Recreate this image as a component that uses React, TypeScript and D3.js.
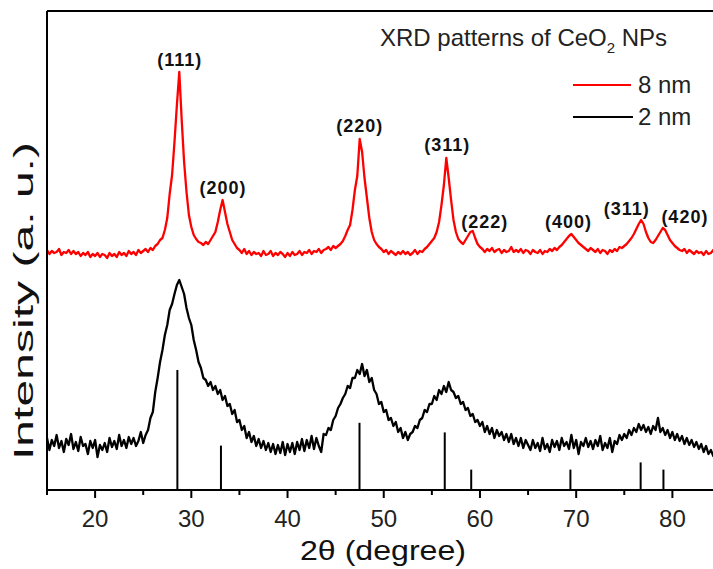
import React, { useEffect } from 'react';
import * as d3 from 'd3';

// 2θ grid of the scans (degree), 0.25° step from 15 to 85
const twoTheta = d3.range(0, 281).map((i) => 15 + i * 0.25);

// 8 nm sample, intensity (a.u.)
const red8nm = [
  240, 236, 239, 237, 238, 241, 235, 238, 237, 240, 236, 239, 236, 238, 234, 237,
  235, 238, 233, 236, 234, 237, 233, 236, 235, 232, 237, 234, 236, 233, 238, 235,
  237, 234, 239, 236, 238, 235, 240, 237, 239, 241, 238, 242, 240, 244, 246, 250,
  252, 260, 272, 296, 315, 348, 385, 418, 370, 328, 298, 275, 263, 255, 251, 248,
  247, 245, 248, 246, 250, 254, 258, 268, 280, 290, 278, 266, 258, 250, 246, 242,
  240, 237, 241, 236, 239, 235, 238, 236, 237, 234, 239, 235, 236, 239, 234, 237,
  235, 238, 236, 233, 237, 234, 238, 235, 236, 239, 235, 238, 237, 240, 236, 239,
  238, 241, 237, 240, 241, 243, 240, 244, 242, 244, 246, 249, 254, 260, 265, 280,
  300, 314, 351, 338, 312, 292, 272, 258, 250, 246, 243, 241, 238, 240, 236, 239,
  237, 235, 238, 236, 239, 236, 238, 235, 237, 240, 236, 239, 238, 241, 243, 246,
  249, 252, 258, 268, 285, 305, 332, 312, 290, 270, 258, 251, 248, 246, 250, 254,
  258, 259, 252, 246, 243, 241, 238, 241, 239, 242, 238, 240, 241, 237, 240, 238,
  239, 243, 238, 240, 238, 241, 237, 240, 239, 236, 240, 238, 237, 240, 236, 239,
  238, 241, 239, 242, 240, 243, 245, 248, 251, 254, 256, 253, 250, 247, 245, 243,
  241, 239, 242, 240, 238, 241, 237, 240, 239, 236, 240, 238, 241, 239, 243, 242,
  244, 246, 249, 252, 256, 261, 266, 270, 266, 258, 252, 248, 247, 250, 254, 258,
  262, 260, 255, 250, 247, 244, 242, 240, 239, 241, 237, 240, 238, 236, 239, 237,
  238, 235, 239, 236, 237, 240, 236, 238, 237,
];

// 2 nm sample, intensity (a.u.)
const black2nm = [
  52, 40, 50, 44, 55, 42, 49, 38, 51, 45, 56, 41, 48, 39, 53, 44,
  46, 36, 49, 42, 50, 33, 45, 40, 47, 38, 52, 43, 49, 41, 55, 44,
  50, 42, 53, 46, 52, 44, 49, 58, 47, 55, 60, 72, 78, 98, 112, 128,
  140, 155, 165, 180, 186, 196, 205, 210, 203, 196, 182, 172, 165, 150, 140, 128,
  122, 112, 110, 104, 108, 100, 104, 96, 100, 90, 94, 84, 86, 76, 80, 68,
  70, 60, 64, 52, 58, 48, 54, 44, 51, 42, 49, 40, 47, 38, 46, 36,
  45, 37, 48, 35, 46, 38, 47, 36, 48, 40, 51, 39, 50, 42, 54, 41,
  52, 44, 38, 56, 55, 62, 60, 70, 74, 82, 86, 92, 96, 104, 102, 112,
  112, 120, 116, 126, 114, 120, 108, 112, 100, 96, 86, 88, 78, 80, 70, 72,
  64, 68, 58, 62, 52, 58, 50, 56, 58, 64, 62, 70, 72, 80, 78, 86,
  86, 94, 90, 100, 96, 104, 98, 108, 100, 98, 92, 94, 86, 88, 80, 82,
  74, 76, 68, 70, 64, 68, 58, 64, 56, 62, 52, 60, 54, 58, 50, 56,
  48, 56, 46, 52, 44, 52, 42, 50, 45, 40, 50, 42, 47, 39, 52, 41,
  46, 38, 50, 43, 49, 40, 52, 44, 48, 41, 55, 42, 50, 36, 48, 44,
  52, 43, 49, 41, 50, 44, 54, 40, 47, 42, 52, 38, 49, 46, 55, 50,
  56, 52, 60, 55, 62, 58, 66, 60, 65, 58, 63, 56, 64, 60, 72, 58,
  62, 55, 60, 52, 58, 50, 56, 49, 54, 46, 52, 45, 50, 43, 48, 41,
  46, 38, 44, 36, 40, 34, 38, 32, 36,
];

// reference (standard) lines for CeO2
const stickPos = [28.55, 33.08, 47.48, 56.34, 59.09, 69.4, 76.7, 79.07];
const stickInt = [100, 37, 56, 48, 17, 17, 23, 17];

// peak labels
const peakLabels = ['(111)', '(200)', '(220)', '(311)', '(222)', '(400)', '(311)', '(420)'];
const peakLabelPos = [28.8, 33.3, 47.5, 56.6, 60.5, 69.2, 75.25, 81.3];
const peakLabelInt = [424, 296, 358, 339, 262, 262, 275, 267];

const majorTicks = [20, 30, 40, 50, 60, 70, 80];
const minorTicks = [15, 25, 35, 45, 55, 65, 75, 85];

const W = 713;
const H = 569;
const font = '"Liberation Sans", Arial, sans-serif';

export default function App() {
  useEffect(() => {
    document.body.style.margin = '0';
  }, []);

  const x = d3.scaleLinear().domain([15, 85]).range([47, 720.5]);
  const y = d3.scaleLinear().domain([0, 479]).range([490, 11]);
  const stickH = d3.scaleLinear().domain([0, 100]).range([0, 120]);

  const line = d3
    .line<number>()
    .x((_, i) => x(twoTheta[i]))
    .y((d) => y(d));

  const y0 = y(0);

  return (
    <svg width={W} height={H} style={{ display: 'block' }} fontFamily={font}>
      <rect width={W} height={H} fill="#fff" />

      {/* curves */}
      <path d={line(black2nm) || ''} fill="none" stroke="#000" strokeWidth={2.3} strokeLinejoin="round" />
      <path d={line(red8nm) || ''} fill="none" stroke="#f00" strokeWidth={2.3} strokeLinejoin="round" />

      {/* standard lines */}
      {stickPos.map((p, i) => (
        <line key={i} x1={x(p)} x2={x(p)} y1={y0} y2={y0 - stickH(stickInt[i])} stroke="#000" strokeWidth={2} />
      ))}

      {/* frame */}
      <line x1={47} x2={W} y1={y(479)} y2={y(479)} stroke="#000" strokeWidth={2} />
      <line x1={47} x2={47} y1={y(479)} y2={y0} stroke="#000" strokeWidth={2} />
      <line x1={46} x2={W} y1={y0} y2={y0} stroke="#000" strokeWidth={2} />

      {/* ticks */}
      {majorTicks.map((t) => (
        <g key={t}>
          <line x1={x(t)} x2={x(t)} y1={y0} y2={y0 + 8} stroke="#000" strokeWidth={2} />
          <text x={x(t)} y={527} textAnchor="middle" fontSize={24} fill="#222">
            {t}
          </text>
        </g>
      ))}
      {minorTicks.map((t) => (
        <line key={t} x1={x(t)} x2={x(t)} y1={y0} y2={y0 + 5} stroke="#000" strokeWidth={2} />
      ))}

      {/* axis titles */}
      <text x={383} y={560} textAnchor="middle" fontSize={28} fill="#111" textLength={166} lengthAdjust="spacingAndGlyphs">
        2θ (degree)
      </text>
      <text
        transform="translate(33,301) rotate(-90)"
        textAnchor="middle"
        fontSize={27}
        fill="#111"
        textLength={318}
        lengthAdjust="spacingAndGlyphs"
      >
        Intensity (a. u.)
      </text>

      {/* peak labels */}
      {peakLabels.map((l, i) => (
        <text
          key={i}
          x={x(peakLabelPos[i])}
          y={y(peakLabelInt[i])}
          textAnchor="middle"
          fontSize={18}
          fontWeight="bold"
          letterSpacing={1}
          fill="#111"
        >
          {l}
        </text>
      ))}

      {/* title + legend */}
      <text x={380} y={46} fontSize={24} fill="#222">
        XRD patterns of CeO
        <tspan fontSize={15} dy={7}>2</tspan>
        <tspan dy={-7}> NPs</tspan>
      </text>
      <line x1={573} x2={631} y1={85} y2={85} stroke="#f00" strokeWidth={2} />
      <text x={638} y={93} fontSize={24} fill="#222">8 nm</text>
      <line x1={573} x2={633} y1={117} y2={117} stroke="#000" strokeWidth={2} />
      <text x={638} y={125} fontSize={24} fill="#222">2 nm</text>
    </svg>
  );
}
